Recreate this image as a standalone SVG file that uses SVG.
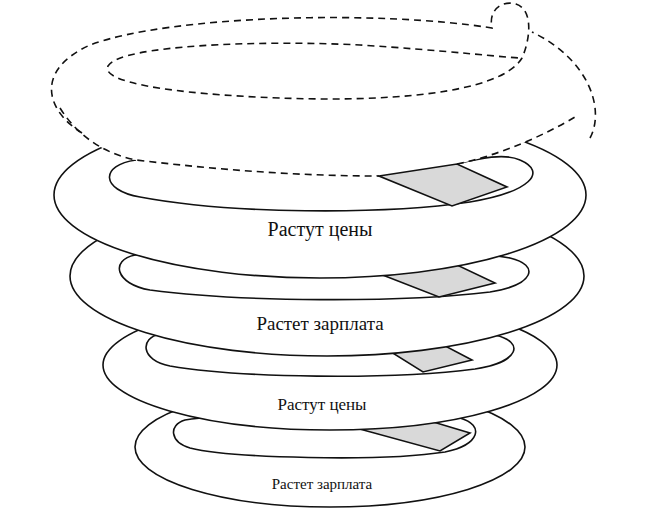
<svg xmlns="http://www.w3.org/2000/svg" width="666" height="517" viewBox="0 0 666 517">
<style>
.r{fill:#fff;stroke:#111;stroke-width:1.6}
.s{fill:none;stroke:#111;stroke-width:1.6}
.g{fill:#d9d9d9;stroke:#111;stroke-width:1.6}
.d{fill:none;stroke:#111;stroke-width:1.6;stroke-dasharray:7 5}
text{font-family:"Liberation Serif","DejaVu Serif",serif;fill:#111;text-anchor:middle}
</style>
<rect width="666" height="517" fill="#fff"/>
<g id="ring4">
<ellipse class="r" cx="330" cy="447" rx="195" ry="60"/>
<path class="r" d="M185,420 C240,412 420,410 460,418 C485,425 480,445 445,452 C380,462 230,458 190,448 C170,442 168,425 185,420 Z"/>
<polygon class="g" points="345,425 420,418 470,433 440,451"/>
<text x="322" y="489" font-size="15">Растет зарплата</text>
</g>
<g id="ring3">
<ellipse class="r" cx="330" cy="365" rx="227" ry="65"/>
<path class="r" d="M160,334 C230,325 440,325 495,335 C525,342 520,362 475,369 C390,380 240,378 170,366 C140,360 140,338 160,334 Z"/>
<polygon class="g" points="383,347 432,339 472,360 423,372"/>
<text x="322" y="410" font-size="17">Растут цены</text>
</g>
<g id="ring2">
<ellipse class="r" cx="327" cy="276" rx="257" ry="80"/>
<path class="r" d="M135,255 C220,245 440,245 510,258 C540,265 535,285 490,292 C400,303 240,302 150,290 C115,284 110,260 135,255 Z"/>
<polygon class="g" points="380,274 455,264 495,283 439,297"/>
<text x="320" y="330" font-size="19">Растет зарплата</text>
</g>
<g id="ring1">
<ellipse class="r" cx="320" cy="195" rx="266" ry="83"/>
<path fill="#fff" d="M136,160 C100,165 100,190 140,197 C230,214 380,215 470,202 C530,192 548,172 520,160 C505,153 480,158 457,164 L379,176 C300,176 220,170 136,160 Z"/>
<path class="s" d="M136,160 C100,165 100,190 140,197 C230,214 380,215 470,202 C530,192 548,172 520,160 C505,153 480,158 457,164"/>
<path fill="#fff" d="M60,108 C80,140 110,155 136,160 C220,170 300,176 379,176 L457,164 C500,155 545,135 575,117 L600,100 L600,15 L40,15 Z"/>
<polygon class="g" points="379,176 457,164 507,187 452,206"/>
<text x="320" y="236" font-size="20">Растут цены</text>
</g>
<g id="top">
<path class="d" d="M82,133 C45,110 35,70 90,45 C170,15 380,10 492,28 C488,10 502,0 516,4 C534,10 530,40 522,58 C500,95 380,102 280,98 C170,94 100,82 108,66 C120,45 260,40 360,45 C440,50 510,58 522,58"/>
<path class="d" d="M590,138 C605,110 590,60 532,32"/>
<path class="d" d="M60,108 C80,140 110,155 136,160 C220,170 300,176 379,176 M457,164 C500,155 545,135 575,117"/>
</g>
</svg>
